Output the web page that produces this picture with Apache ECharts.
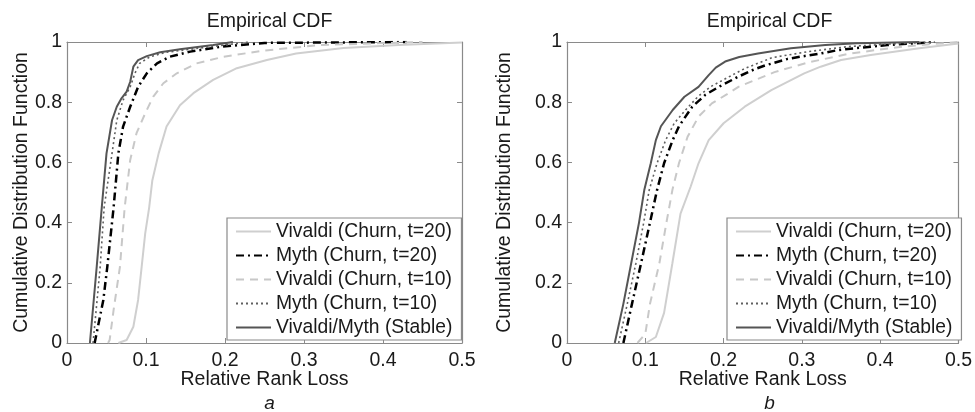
<!DOCTYPE html>
<html>
<head>
<meta charset="utf-8">
<script src="https://cdn.jsdelivr.net/npm/echarts@6/dist/echarts.min.js"></script>
<style>
html,body{margin:0;padding:0;background:#fff;}
#chart{width:975px;height:412px;}
</style>
</head>
<body>
<div id="chart"></div>
<script>
// ---- tick labels ----
const xTicks = [0, 0.1, 0.2, 0.3, 0.4, 0.5];
const yTicks = [0, 0.2, 0.4, 0.6, 0.8, 1];
const seriesNames = ['Vivaldi (Churn, t=20)', 'Myth (Churn, t=20)', 'Vivaldi (Churn, t=10)', 'Myth (Churn, t=10)', 'Vivaldi/Myth (Stable)'];
const panelTitles = ['Empirical CDF', 'Empirical CDF'];
const panelLetters = ['a', 'b'];
const xName = 'Relative Rank Loss';
const yName = 'Cumulative Distribution Function';

// ---- panel a: [relative rank loss, CDF] ----
const vivaldi20A = [[0.065,0],[0.0755,0.01],[0.084,0.054],[0.09,0.143],[0.0945,0.253],[0.099,0.364],[0.104,0.45],[0.108,0.54],[0.116,0.63],[0.126,0.719],[0.143,0.79],[0.16,0.83],[0.185,0.874],[0.215,0.913],[0.253,0.94],[0.29,0.962],[0.35,0.98],[0.42,0.99],[0.5,0.998]];
const myth20A = [[0.035,0],[0.046,0.143],[0.051,0.253],[0.059,0.45],[0.065,0.63],[0.071,0.719],[0.080,0.785],[0.090,0.851],[0.101,0.896],[0.114,0.929],[0.130,0.951],[0.156,0.968],[0.194,0.984],[0.25,0.997],[0.43,1]];
const vivaldi10A = [[0.052,0],[0.054,0.01],[0.059,0.11],[0.067,0.253],[0.073,0.45],[0.080,0.608],[0.088,0.697],[0.099,0.763],[0.109,0.818],[0.122,0.863],[0.139,0.896],[0.164,0.929],[0.198,0.951],[0.248,0.971],[0.32,0.99],[0.45,1]];
const myth10A = [[0.033,0],[0.042,0.253],[0.047,0.45],[0.057,0.63],[0.063,0.74],[0.071,0.807],[0.080,0.851],[0.086,0.896],[0.092,0.929],[0.105,0.951],[0.126,0.966],[0.156,0.976],[0.2,0.99],[0.23,1]];
const stableA = [[0.029,0],[0.0376,0.253],[0.044,0.45],[0.05,0.63],[0.057,0.74],[0.063,0.785],[0.069,0.813],[0.0755,0.835],[0.08,0.868],[0.084,0.918],[0.09,0.94],[0.101,0.953],[0.118,0.966],[0.143,0.976],[0.185,0.99],[0.21,1]];

// ---- panel b ----
const vivaldi20B = [[0.101,0],[0.1135,0.02],[0.124,0.1],[0.1346,0.265],[0.145,0.43],[0.158,0.52],[0.168,0.597],[0.181,0.674],[0.2,0.73],[0.227,0.785],[0.261,0.84],[0.303,0.896],[0.324,0.918],[0.35,0.94],[0.388,0.957],[0.45,0.979],[0.5,0.995]];
const myth20B = [[0.072,0],[0.083,0.13],[0.0946,0.265],[0.106,0.40],[0.115,0.508],[0.124,0.597],[0.135,0.674],[0.143,0.72],[0.16,0.785],[0.177,0.825],[0.194,0.851],[0.219,0.885],[0.24,0.91],[0.253,0.922],[0.282,0.944],[0.3,0.952],[0.324,0.962],[0.346,0.973],[0.367,0.979],[0.409,0.99],[0.47,1]];
const vivaldi10B = [[0.09,0],[0.1,0.03],[0.106,0.13],[0.118,0.265],[0.127,0.4],[0.1346,0.508],[0.143,0.597],[0.154,0.685],[0.168,0.752],[0.185,0.796],[0.204,0.826],[0.219,0.851],[0.232,0.865],[0.265,0.9],[0.308,0.932],[0.362,0.962],[0.43,0.985],[0.5,1]];
const myth10B = [[0.066,0],[0.077,0.13],[0.088,0.265],[0.098,0.40],[0.105,0.508],[0.115,0.597],[0.126,0.674],[0.137,0.73],[0.152,0.776],[0.167,0.818],[0.183,0.851],[0.206,0.883],[0.227,0.912],[0.262,0.948],[0.308,0.968],[0.36,0.985],[0.41,0.993],[0.47,1]];
const stableB = [[0.061,0],[0.072,0.13],[0.082,0.265],[0.092,0.40],[0.0987,0.508],[0.107,0.597],[0.1135,0.674],[0.12,0.72],[0.135,0.774],[0.15,0.818],[0.168,0.851],[0.181,0.89],[0.19,0.915],[0.202,0.935],[0.22,0.95],[0.244,0.962],[0.286,0.979],[0.33,0.99],[0.37,0.996],[0.45,1]];

const panelData = [
  [vivaldi20A, myth20A, vivaldi10A, myth10A, stableA],
  [vivaldi20B, myth20B, vivaldi10B, myth10B, stableB]
];

const FONT = 'Liberation Sans, Arial, sans-serif';
const TXT = '#1a1a1a';
const AX = '#8a8a8a';
const styles = [
  {color:'#cfcfcf', width:2, type:'solid'},
  {color:'#000000', width:2.5, type:[8,4,2,4]},
  {color:'#c8c8c8', width:2, type:[8,6]},
  {color:'#5f5f5f', width:1.6, type:[2,3]},
  {color:'#555555', width:2, type:'solid'}
];
const drawOrder = [0, 2, 1, 3, 4];

const gridLefts = [67, 567];
const yNameGaps = [35, 52];
const grids = gridLefts.map(l => ({left:l, top:42, width:395, height:301}));

const xAxes = [], yAxes = [], series = [], titles = [], legends = [];
gridLefts.forEach((l, g) => {
  ['bottom','top'].forEach(pos => {
    xAxes.push({
      type:'value', gridIndex:g, position:pos, min:xTicks[0], max:xTicks[xTicks.length-1], interval:0.1,
      axisLine:{show:true, onZero:false, lineStyle:{color:AX, width:1.2}},
      axisTick:{show:true, inside:true, length:5, lineStyle:{color:AX}},
      splitLine:{show:false},
      axisLabel:{show:pos==='bottom', fontSize:19.5, color:TXT, fontFamily:FONT, margin:8,
        formatter: v => String(Math.round(v*10)/10)},
      name: pos==='bottom' ? xName : '', nameLocation:'middle', nameGap:27, nameMoveOverlap:false,
      nameTextStyle:{fontSize:19.5, color:TXT, fontFamily:FONT}
    });
  });
  ['left','right'].forEach(pos => {
    yAxes.push({
      type:'value', gridIndex:g, position:pos, min:yTicks[0], max:yTicks[yTicks.length-1], interval:0.2,
      axisLine:{show:true, onZero:false, lineStyle:{color:AX, width:1.2}},
      axisTick:{show:true, inside:true, length:5, lineStyle:{color:AX}},
      splitLine:{show:false},
      axisLabel:{show:pos==='left', fontSize:19.5, color:TXT, fontFamily:FONT, margin:5,
        formatter: v => String(Math.round(v*10)/10)},
      name: pos==='left' ? yName : '', nameLocation:'middle', nameGap:yNameGaps[g], nameRotate:90, nameMoveOverlap:false,
      nameTextStyle:{fontSize:19.5, color:TXT, fontFamily:FONT}
    });
  });
  drawOrder.forEach(i => {
    series.push({
      type:'line', name:seriesNames[i], xAxisIndex:g*2, yAxisIndex:g*2,
      data:panelData[g][i], symbol:'none', showSymbol:false, smooth:false, animation:false,
      lineStyle:styles[i], itemStyle:{color:styles[i].color}, z:2+i
    });
  });
  const cx = l + 395/2;
  titles.push({text:panelTitles[g], left:cx, top:7, textAlign:'center',
    textStyle:{fontSize:19.5, fontWeight:'normal', color:TXT, fontFamily:FONT}});
  titles.push({text:panelLetters[g], left:cx, top:389, textAlign:'center',
    textStyle:{fontSize:19, fontWeight:'normal', fontStyle:'italic', color:TXT, fontFamily:FONT}});
  legends.push({
    data:seriesNames, orient:'vertical', left:l+160, top:218,
    backgroundColor:'#fff', borderColor:AX, borderWidth:1.2,
    padding:[4,9,3,8], itemGap:5, itemWidth:35, itemHeight:19,
    selectedMode:false,
    itemStyle:{opacity:0, borderWidth:0},
    textStyle:{fontSize:19.3, color:TXT, fontFamily:FONT}
  });
});

const chart = echarts.init(document.getElementById('chart'), null, {renderer:'canvas'});
chart.setOption({
  animation:false,
  backgroundColor:'#fff',
  title:titles,
  legend:legends,
  grid:grids,
  xAxis:xAxes,
  yAxis:yAxes,
  series:series
});
</script>
</body>
</html>
